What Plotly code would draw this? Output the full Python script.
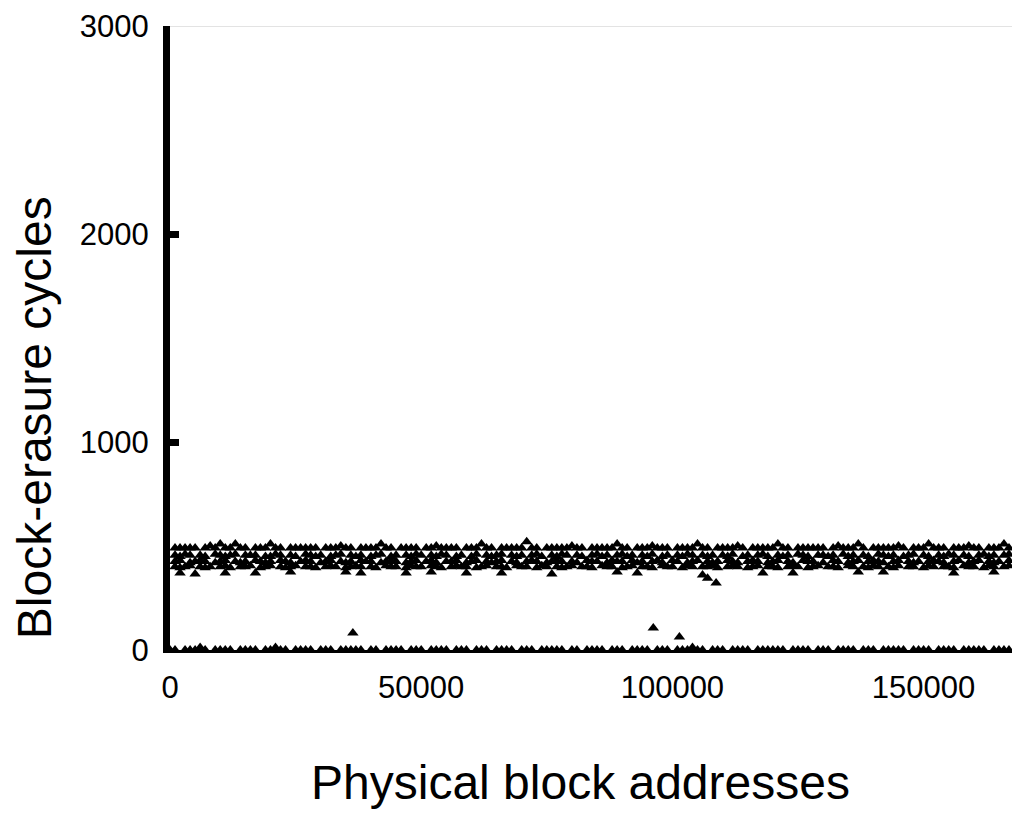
import plotly.graph_objects as go

n = None

# Physical block addresses (sampled)
ADDR = [
    0, 1000, 2000, 3000, 4000, 5000, 6000, 7000, 8000, 9000,
    10000, 11000, 12000, 13000, 14000, 15000, 16000, 17000, 18000, 19000,
    20000, 21000, 22000, 23000, 24000, 25000, 26000, 27000, 28000, 29000,
    30000, 31000, 32000, 33000, 34000, 35000, 36000, 37000, 38000, 39000,
    40000, 41000, 42000, 43000, 44000, 45000, 46000, 47000, 48000, 49000,
    50000, 51000, 52000, 53000, 54000, 55000, 56000, 57000, 58000, 59000,
    60000, 61000, 62000, 63000, 64000, 65000, 66000, 67000, 68000, 69000,
    70000, 71000, 72000, 73000, 74000, 75000, 76000, 77000, 78000, 79000,
    80000, 81000, 82000, 83000, 84000, 85000, 86000, 87000, 88000, 89000,
    90000, 91000, 92000, 93000, 94000, 95000, 96000, 97000, 98000, 99000,
    100000, 101000, 102000, 103000, 104000, 105000, 106000, 107000, 108000, 109000,
    110000, 111000, 112000, 113000, 114000, 115000, 116000, 117000, 118000, 119000,
    120000, 121000, 122000, 123000, 124000, 125000, 126000, 127000, 128000, 129000,
    130000, 131000, 132000, 133000, 134000, 135000, 136000, 137000, 138000, 139000,
    140000, 141000, 142000, 143000, 144000, 145000, 146000, 147000, 148000, 149000,
    150000, 151000, 152000, 153000, 154000, 155000, 156000, 157000, 158000, 159000,
    160000, 161000, 162000, 163000, 164000, 165000, 166000, 167000,
]

CYC_TOP = [
    n, 490, 490, 490, 490, 490, n, 490, 500, 490,
    510, 490, 490, 510, 490, 490, n, 490, 490, 490,
    510, 490, 490, n, 490, 490, 490, 490, 490, 490,
    n, 490, 490, 490, 500, 490, 490, n, 490, 490,
    490, 490, 510, 490, 490, n, 490, 490, 490, 490,
    n, 490, 490, 500, 490, 490, 490, 490, n, 490,
    490, 490, 510, 490, 490, n, 490, 490, 490, 490,
    490, 520, 490, 490, n, 490, 490, 490, 490, 490,
    500, 490, 490, n, 490, 490, 490, 490, 490, 510,
    490, 490, n, 490, 490, 490, 500, 490, 490, 490,
    n, 490, 490, 490, 490, 510, 490, 490, n, 490,
    490, 490, 490, 500, 490, n, 490, 490, 490, 490,
    490, 510, 490, 490, n, 490, 490, 490, 490, 490,
    490, n, 490, 500, 490, 490, 490, 510, 490, n,
    490, 490, 490, 490, 490, 500, 490, n, 490, 490,
    490, 510, 490, 490, 490, n, 490, 490, 490, 500,
    490, 490, n, 490, 490, 490, 510, 490,
]

CYC_MID1 = [
    n, 455, 450, 460, 455, n, 455, 450, n, 460,
    455, 450, 455, 460, n, 455, 455, 455, n, 450,
    450, 460, 455, n, 455, 450, n, 460, 455, 450,
    455, n, 450, 455, 460, n, 455, 450, 455, n,
    450, 455, 460, n, 450, 455, n, 455, 450, 460,
    455, n, 455, 450, 460, 455, n, 450, 455, n,
    450, 460, n, 455, 450, 455, 460, n, 455, 450,
    455, n, 455, 460, 450, n, 455, 450, 460, 455,
    n, 455, 450, n, 455, 460, 450, 455, n, 455,
    460, 450, 455, n, 455, 450, 460, n, 450, 455,
    n, 455, 450, 460, 455, n, 455, 450, 455, n,
    455, 450, 460, n, 450, 455, n, 455, 460, 450,
    n, 455, 450, 455, n, 460, 455, 450, n, 455,
    455, 450, 455, n, 460, 450, 455, n, 455, 450,
    n, 460, 455, 450, 455, n, 450, 455, 460, n,
    455, 450, n, 455, 450, 460, 455, n, 455, 450,
    n, 455, 460, 450, 455, n, 455, 460,
]

CYC_MID2 = [
    n, 425, 430, n, 420, 425, 430, 425, n, 420,
    425, 430, n, 425, 420, 425, n, 430, 425, 420,
    425, n, 430, 425, 420, n, 425, 430, 425, n,
    420, 425, 430, n, 425, 420, 425, n, 430, 425,
    425, n, 420, 425, 430, 425, n, 420, 425, 430,
    n, 425, 430, 420, n, 425, 425, 430, n, 420,
    425, 430, n, 425, 420, 425, 430, n, 425, 420,
    n, 425, 430, 425, n, 420, 425, 430, 425, n,
    425, 420, n, 430, 425, 425, n, 420, 430, 425,
    425, n, 430, 420, 425, n, 425, 430, 420, n,
    430, 425, n, 420, 425, 430, n, 425, 420, 425,
    n, 430, 425, 420, n, 425, 430, 425, n, 420,
    425, 430, n, 425, 420, n, 430, 425, 425, n,
    420, n, 430, 425, n, 420, 425, 430, n, 425,
    430, 425, 420, n, 425, 430, n, 425, 420, 425,
    n, 425, 430, 425, 420, n, 425, 430, n, 420,
    425, 430, n, 425, 420, 425, n, 430,
]

CYC_LOW = [
    n, 400, 395, 400, 405, n, 400, 395, 400, n,
    400, 405, 395, n, 400, 400, 405, n, 395, 400,
    405, n, 400, 395, 400, 405, n, 400, 400, 395,
    n, 400, 405, 400, n, 395, 400, 405, 400, n,
    400, 395, n, 405, 400, 400, n, 395, 405, 400,
    400, n, 405, 400, 395, n, 400, 405, 400, 400,
    n, 395, 400, 405, n, 400, 400, 395, n, 405,
    400, 400, n, 395, 405, 400, n, 400, 395, 400,
    405, n, 400, 400, 395, n, 405, 400, 400, n,
    395, 400, 405, n, 400, 400, 395, n, 405, 400,
    400, n, 395, 405, 400, n, 400, 400, 405, 395,
    n, 400, 405, 400, n, 395, 400, 405, n, 400,
    400, 395, n, 400, 405, 400, n, 395, 400, 405,
    n, 400, 400, 395, n, 405, 400, n, 400, 395,
    405, 400, n, 400, 395, 405, n, 400, 400, n,
    395, 405, 400, n, 400, 400, 395, n, 405, 400,
    400, n, 395, 405, 400, n, 400, 405,
]

CYC_STRAY = [
    n, n, 370, n, n, 365, n, n, n, n,
    n, 370, n, n, n, n, n, 370, n, n,
    n, n, n, n, 375, n, n, n, n, n,
    n, n, n, n, n, 375, n, n, 370, n,
    n, n, n, n, n, n, n, 370, n, n,
    n, n, 375, n, n, n, n, n, n, 370,
    n, n, n, n, n, n, 370, n, n, n,
    n, n, n, n, n, n, 365, n, n, n,
    n, n, n, n, n, n, n, n, n, 375,
    n, n, n, 370, n, n, n, n, n, n,
    n, n, n, n, n, n, 360, 345, n, n,
    n, n, n, n, n, n, n, n, 370, n,
    n, n, n, n, 370, n, n, n, n, n,
    n, n, n, n, n, n, n, 375, n, n,
    n, n, 375, n, n, n, n, n, n, n,
    n, n, n, n, n, n, 370, n, n, n,
    n, n, n, n, 375, n, n, n,
]

CYC_ZERO = [
    0, 0, n, 0, 0, 0, 12, 0, n, 0,
    0, 0, 0, n, 0, 0, 0, 0, n, 0,
    0, 12, 0, 0, n, 0, 0, 0, 0, n,
    0, 0, 0, n, 0, 0, 0, 0, 0, n,
    0, 0, n, 0, 0, 0, 0, n, 0, 0,
    0, n, 0, 0, 0, 0, n, 0, 0, 0,
    n, 0, 0, 0, n, 0, 0, 0, 0, n,
    0, 0, 0, n, 0, 0, 0, 0, 0, n,
    0, 0, n, 0, 0, 0, 0, n, 0, 0,
    0, n, 0, 0, 0, 0, n, 0, 0, 0,
    n, 0, 0, 0, 12, 0, 0, n, 0, 0,
    0, n, 0, 0, 0, 0, n, 0, 0, 0,
    0, 0, 0, n, 0, 0, 0, 0, n, 0,
    0, 0, n, 0, 0, 0, 0, n, 0, 0,
    0, n, 0, 0, 0, 0, 0, n, 0, 0,
    0, 0, n, 0, 0, 0, 0, n, 0, 0,
    0, 0, 0, n, 0, 0, 0, 0,
]

# Isolated outliers
OUT_ADDR = [36400, 96200, 101400, 108700]
OUT_CYC = [82, 106, 62, 322]

X_TICKS = [0, 50000, 100000, 150000]
Y_TICKS = [0, 1000, 2000, 3000]

fig = go.Figure()
marker = dict(symbol="triangle-up", size=10, color="black", line=dict(width=0))
for ys in [CYC_ZERO, CYC_STRAY, CYC_LOW, CYC_MID2, CYC_MID1, CYC_TOP]:
    xs = [a for a, v in zip(ADDR, ys) if v is not None]
    vs = [v for v in ys if v is not None]
    fig.add_trace(go.Scatter(x=xs, y=vs, mode="markers", marker=marker,
                             cliponaxis=False, showlegend=False))
fig.add_trace(go.Scatter(x=OUT_ADDR, y=OUT_CYC, mode="markers", marker=marker,
                         cliponaxis=False, showlegend=False))

# light gray line at the top of the plot
fig.add_shape(type="line", xref="paper", yref="y", x0=0, x1=1, y0=3000, y1=3000,
              line=dict(color="#c8c8c8", width=1), layer="below")

font = "Liberation Sans, Arial, sans-serif"

fig.add_annotation(text="Physical block addresses", xref="paper", yref="paper",
                   x=0.488, y=-0.212, xanchor="center", yanchor="middle",
                   showarrow=False, font=dict(size=48, family=font, color="black"))
fig.add_annotation(text="Block-erasure cycles", xref="paper", yref="paper",
                   x=-0.16, y=0.372, xanchor="center", yanchor="middle", textangle=-90,
                   showarrow=False, font=dict(size=48, family=font, color="black"))

fig.update_layout(
    width=1012, height=813,
    margin=dict(l=170, r=0, t=26, b=163),
    paper_bgcolor="white", plot_bgcolor="white",
    font=dict(family=font, color="black"),
    xaxis=dict(
        range=[0, 167600], tickvals=X_TICKS, ticktext=[str(v) for v in X_TICKS],
        showgrid=False, zeroline=False, showline=True, linecolor="black", linewidth=3,
        ticks="", tickfont=dict(size=31, family=font), ticklabelstandoff=8,
        automargin=False,
    ),
    yaxis=dict(
        range=[0, 3000], tickvals=Y_TICKS, ticktext=[str(v) for v in Y_TICKS],
        showgrid=False, zeroline=False, showline=True, linecolor="black", linewidth=7,
        ticks="inside", ticklen=9, tickwidth=7, tickcolor="black",
        tickfont=dict(size=31, family=font), ticklabelstandoff=8,
        automargin=False,
    ),
)

fig.write_html("out.html")
